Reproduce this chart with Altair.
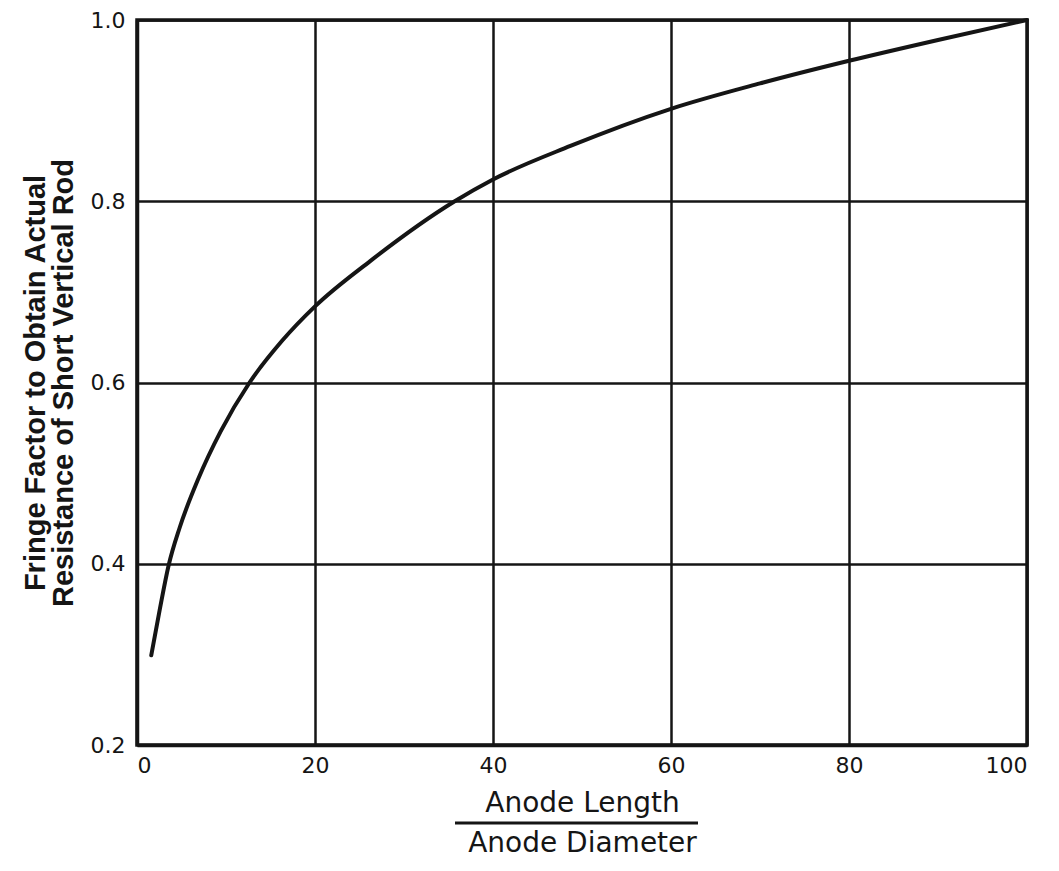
import altair as alt
import pandas as pd

# Curve: Anode Length / Anode Diameter vs. fringe factor
ratio = [1.6, 2.55, 3.55, 4.8, 6.9, 9.4, 12.65, 16.3, 20, 26.2, 35.7, 40, 48.7, 60, 70, 80, 90, 100]
factor = [0.299, 0.349, 0.398, 0.440, 0.494, 0.546, 0.600, 0.646, 0.684, 0.734, 0.800, 0.824, 0.861, 0.902, 0.930, 0.955, 0.978, 1.0]

x_ticks = [0, 20, 40, 60, 80, 100]
y_ticks = [0.2, 0.4, 0.6, 0.8, 1.0]

y_title = ["Fringe Factor to Obtain Actual", "Resistance of Short Vertical Rod"]
x_title = ["Anode Length", "Anode Diameter"]

df = pd.DataFrame({"ratio": ratio, "factor": factor})

curve = alt.Chart(df).mark_line(
    color="#151515", strokeWidth=4, interpolate="monotone", strokeCap="round"
).encode(
    x=alt.X(
        "ratio:Q",
        scale=alt.Scale(domain=[0, 100], nice=False, zero=False),
        axis=alt.Axis(
            values=x_ticks,
            format="d",
            title=x_title,
            titleFont="DejaVu Sans",
            titleFontSize=28,
            titleFontWeight="normal",
            titleLineHeight=40,
            titlePadding=13,
            labelFont="DejaVu Sans",
            labelFontSize=22,
            labelPadding=10,
        ),
    ),
    y=alt.Y(
        "factor:Q",
        scale=alt.Scale(domain=[0.2, 1.0], nice=False, zero=False),
        axis=alt.Axis(
            values=y_ticks,
            format=".1f",
            title=y_title,
            titleFont="Liberation Sans",
            titleFontSize=29,
            titleFontWeight="bold",
            titleLineHeight=28,
            titlePadding=12,
            labelFont="DejaVu Sans",
            labelFontSize=22,
            labelPadding=12,
        ),
    ),
)

fraction_bar = alt.Chart(pd.DataFrame({"k": [0]})).mark_rule(
    color="#151515", strokeWidth=3
).encode(x=alt.value(318), x2=alt.value(561), y=alt.value(803))

chart = alt.layer(curve, fraction_bar).properties(
    width=890,
    height=725,
    autosize=alt.AutoSizeParams(type="none"),
    padding={"left": 129, "top": 12, "right": 16, "bottom": 118},
    background="white",
).configure_axis(
    domainColor="#151515",
    domainWidth=3.5,
    gridColor="#151515",
    gridWidth=2.5,
    gridOpacity=1,
    ticks=False,
    labelColor="#151515",
    titleColor="#151515",
).configure_view(
    stroke="#151515", strokeWidth=3.5
)

chart.save("out.html", embed_options={"renderer": "svg", "actions": False})
